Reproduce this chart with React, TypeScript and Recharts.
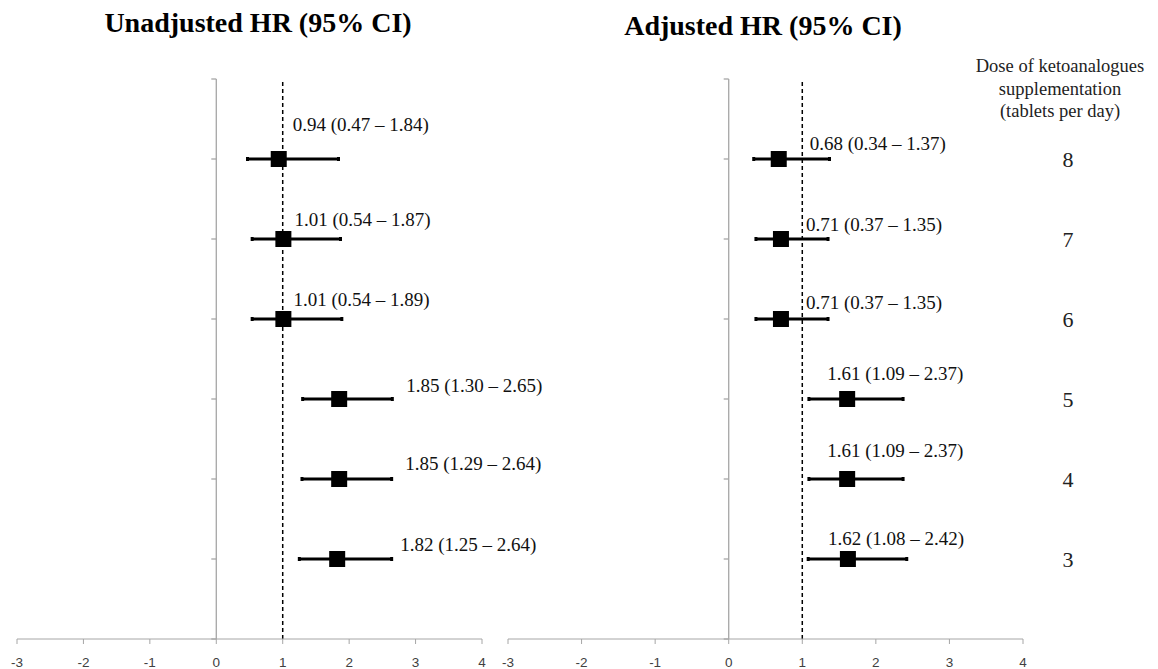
import { ScatterChart, Scatter, XAxis, YAxis, ErrorBar, ReferenceLine } from "recharts";

const doses = [8, 7, 6, 5, 4, 3];
const unadjustedHr = [0.94, 1.01, 1.01, 1.85, 1.85, 1.82];
const unadjustedLow = [0.47, 0.54, 0.54, 1.3, 1.29, 1.25];
const unadjustedHigh = [1.84, 1.87, 1.89, 2.65, 2.64, 2.64];
const adjustedHr = [0.68, 0.71, 0.71, 1.61, 1.61, 1.62];
const adjustedLow = [0.34, 0.37, 0.37, 1.09, 1.09, 1.08];
const adjustedHigh = [1.37, 1.35, 1.35, 2.37, 2.37, 2.42];
const xTicks = [-3, -2, -1, 0, 1, 2, 3, 4];
const doseTicks = [3, 4, 5, 6, 7, 8];
const frameTicks = [2, 3, 4, 5, 6, 7, 8, 9];

// label offsets from each marker (the labels were hand placed in the original)
const unadjustedNudge = [[14, -35], [11, -20], [10, -20], [67, -14], [66, -16], [63, -15]];
const adjustedNudge = [[31, -16], [25, -15], [25, -17], [-20, -26], [-20, -29], [-20, -21]];

const AXIS_GRAY = "#a6a6a6";
const SERIF = "'Liberation Serif', 'Times New Roman', serif";

function buildRows(hr: number[], lo: number[], hi: number[]) {
  return doses.map((dose, i) => ({
    i,
    dose,
    hr: hr[i],
    lo: lo[i],
    hi: hi[i],
    ci: [hr[i] - lo[i], hi[i] - hr[i]]
  }));
}

const unadjustedRows = buildRows(unadjustedHr, unadjustedLow, unadjustedHigh);
const adjustedRows = buildRows(adjustedHr, adjustedLow, adjustedHigh);

const fmt = (v: number) => v.toFixed(2);

function makeShape(nudges: number[][]) {
  return (props: any) => {
    const { cx, cy, payload } = props;
    const [dx, dy] = nudges[payload.i];
    return (
      <g>
        <rect x={cx - 8} y={cy - 8} width={16} height={16} fill="#000" />
        <text
          x={cx + dx}
          y={cy + dy + 6.5}
          fontFamily={SERIF}
          fontSize={19}
          fill="#111"
        >
          {`${fmt(payload.hr)} (${fmt(payload.lo)} – ${fmt(payload.hi)})`}
        </text>
      </g>
    );
  };
}

const tickStyle = { fill: "#404040", fontSize: 13.5, fontFamily: "'Liberation Sans', Arial, sans-serif" };

function DoseTick(props: any) {
  const { x, y, payload } = props;
  return (
    <text x={x + 45} y={y + 7.5} textAnchor="middle" fontFamily={SERIF} fontSize={22} fill="#222">
      {payload.value}
    </text>
  );
}

function Frame(unit: number) {
  const tick = 5 / unit;
  return [
    <ReferenceLine key="zero" x={0} stroke={AXIS_GRAY} strokeWidth={1.3} />,
    ...frameTicks.map((v) => (
      <ReferenceLine
        key={`t${v}`}
        segment={[{ x: -tick, y: v }, { x: 0, y: v }]}
        stroke={AXIS_GRAY}
        strokeWidth={1.3}
      />
    )),
    <ReferenceLine key="one" x={1} stroke="#000" strokeWidth={1.5} strokeDasharray="4 3" />
  ];
}

export default function App() {
  return (
    <div style={{ position: "absolute", left: 0, top: 0, width: 1158, height: 669, background: "#fff" }}>
      <style>{`svg.recharts-surface { overflow: visible; }`}</style>
      <div
        style={{
          position: "absolute", left: 58, top: 7, width: 400, textAlign: "center",
          fontFamily: SERIF, fontWeight: "bold", fontSize: 28, lineHeight: "32px"
        }}
      >
        Unadjusted HR (95% CI)
      </div>
      <div
        style={{
          position: "absolute", left: 563, top: 10, width: 400, textAlign: "center",
          fontFamily: SERIF, fontWeight: "bold", fontSize: 28, lineHeight: "32px"
        }}
      >
        Adjusted HR (95% CI)
      </div>
      <div
        style={{
          position: "absolute", left: 960, top: 55, width: 200, textAlign: "center",
          fontFamily: SERIF, fontSize: 18.5, lineHeight: "22.5px", color: "#222"
        }}
      >
        Dose of ketoanalogues
        <br />
        supplementation
        <br />
        (tablets per day)
      </div>

      <div style={{ position: "absolute", left: 0, top: 0 }}>
        <ScatterChart width={500} height={669} margin={{ top: 79, right: 18, bottom: 0, left: 17 }}>
          <XAxis
            type="number"
            dataKey="hr"
            domain={[-3, 4]}
            ticks={xTicks}
            interval={0}
            stroke={AXIS_GRAY}
            tickSize={5}
            tickMargin={13}
            height={30}
            tick={tickStyle}
          />
          <YAxis type="number" dataKey="dose" domain={[2, 9]} hide />
          {Frame(66.4)}
          <Scatter data={unadjustedRows} shape={makeShape(unadjustedNudge)} isAnimationActive={false}>
            <ErrorBar dataKey="ci" direction="x" width={2} strokeWidth={3} stroke="#000" />
          </Scatter>
        </ScatterChart>
      </div>

      <div style={{ position: "absolute", left: 500, top: 0 }}>
        <ScatterChart width={658} height={669} margin={{ top: 79, right: 0, bottom: 0, left: 8 }}>
          <XAxis
            type="number"
            dataKey="hr"
            domain={[-3, 4]}
            ticks={xTicks}
            interval={0}
            stroke={AXIS_GRAY}
            tickSize={5}
            tickMargin={13}
            height={30}
            tick={tickStyle}
          />
          <YAxis
            type="number"
            dataKey="dose"
            orientation="right"
            domain={[2, 9]}
            ticks={doseTicks}
            interval={0}
            axisLine={false}
            tickLine={false}
            tickSize={0}
            tickMargin={0}
            width={135}
            tick={<DoseTick />}
          />
          {Frame(73.5)}
          <Scatter data={adjustedRows} shape={makeShape(adjustedNudge)} isAnimationActive={false}>
            <ErrorBar dataKey="ci" direction="x" width={2} strokeWidth={3} stroke="#000" />
          </Scatter>
        </ScatterChart>
      </div>
    </div>
  );
}
